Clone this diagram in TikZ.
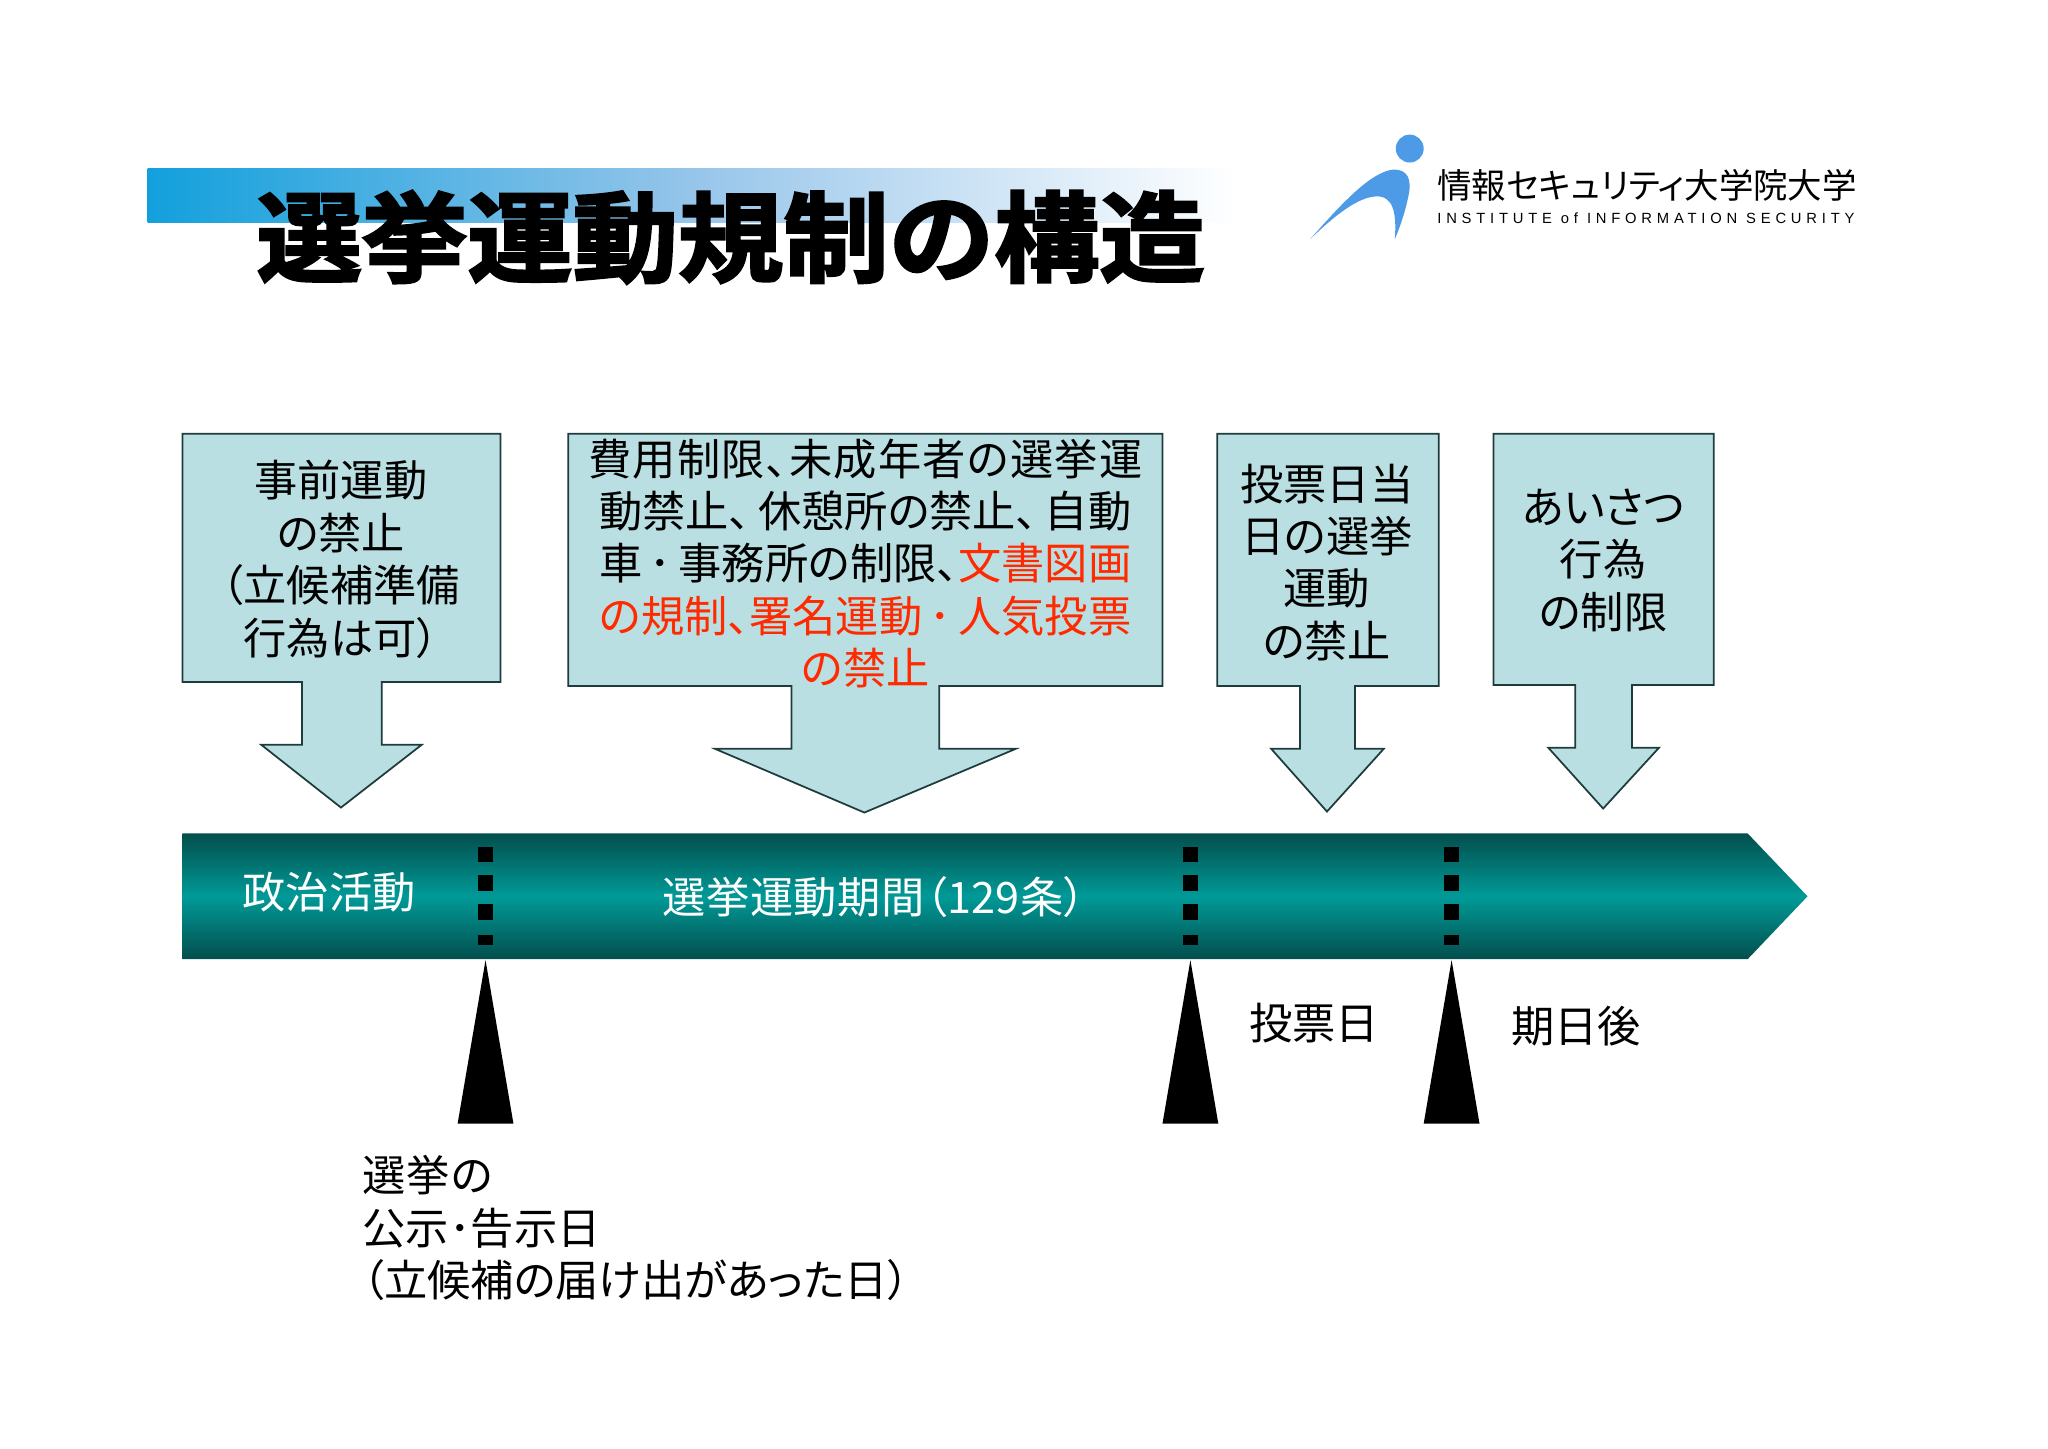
\documentclass[tikz,border=0pt]{standalone}
\usepackage{fontspec}
\setmainfont{Noto Sans CJK JP}[RawFeature={+palt}]
\newfontfamily\titlefont{Noto Sans CJK JP Bold}[FakeBold=2.5]
\newfontfamily\latinfont{Liberation Sans}[LetterSpace=32.5]
\usetikzlibrary{positioning}
\definecolor{boxfill}{RGB}{186,223,226}
\definecolor{boxline}{RGB}{30,60,60}
\definecolor{barmid}{RGB}{0,154,152}
\definecolor{bardark}{RGB}{3,78,76}
\definecolor{alert}{RGB}{255,42,0}
\definecolor{logoblue}{RGB}{77,154,230}
\tikzset{
  callout/.style={draw=boxline, fill=boxfill, line width=0.5pt, line join=miter},
  bodytext/.style={font=\fontsize{12.3}{14.9}\selectfont, align=center, inner sep=0pt},
}
\begin{document}
\begin{tikzpicture}[x=0.00997cm, y=-0.00997cm]
    \useasboundingbox (0,0) rectangle (2054.2,1452.4);

    % Title band
    \shade[left color={rgb,255:red,18;green,160;blue,220}, right color=white, middle color={rgb,255:red,150;green,197;blue,234}]
        (148,169) rectangle (1240,223);
    \node[font=\titlefont\fontsize{28}{28}\selectfont, xscale=1.07, inner sep=0pt] (title) at (733,238) {選挙運動規制の構造};

    % Logo
    \fill[logoblue] (1414,149) circle (14);
    \fill[logoblue] (1314,240) .. controls (1345,205) and (1375,172) .. (1398,170)
        .. controls (1412,170) and (1416,180) .. (1413,195)
        .. controls (1409,215) and (1404,228) .. (1399,240)
        .. controls (1401,215) and (1398,196) .. (1380,197)
        .. controls (1362,198) and (1340,215) .. (1314,240) -- cycle;
    \node[font=\fontsize{9.8}{9.8}\selectfont, anchor=west, inner sep=0pt] (logoname) at (1441,186) {情報セキュリティ大学院大学};
    \node[font=\latinfont\fontsize{4.2}{4.2}\selectfont, anchor=west, inner sep=0pt] (logosub) at (1441,219) {INSTITUTE of INFORMATION SECURITY};

    % Callouts
    \draw[callout] (183,435) -- (502,435) -- (502,684) -- (383,684) -- (383,747) -- (423,747)
        -- (342,810) -- (262,747) -- (303,747) -- (303,684) -- (183,684) -- cycle;
    \draw[callout] (570,435) -- (1166,435) -- (1166,688) -- (942,688) -- (942,751) -- (1019,751)
        -- (867,815) -- (717,751) -- (794,751) -- (794,688) -- (570,688) -- cycle;
    \draw[callout] (1221,435) -- (1443,435) -- (1443,688) -- (1359,688) -- (1359,751) -- (1388,751)
        -- (1331,814) -- (1275,751) -- (1304,751) -- (1304,688) -- (1221,688) -- cycle;
    \draw[callout] (1498,435) -- (1719,435) -- (1719,687) -- (1637,687) -- (1637,750) -- (1664,750)
        -- (1608,811) -- (1553,750) -- (1580,750) -- (1580,687) -- (1498,687) -- cycle;

    \node[bodytext] (pre) at (342,561) {事前運動\\の禁止\\（立候補準備\\行為は可）};
    \node[bodytext] (campaign) at (868,565) {\addfontfeature{LetterSpace=3}費用制限、未成年者の選挙運\\動禁止、\,休憩所の禁止、\,自動\\車\,･\,事務所の制限、\textcolor{alert}{文書図画}\\\textcolor{alert}{の規制、署名運動\,･\,人気投票}\\\textcolor{alert}{の禁止}};
    \node[bodytext] (voteday) at (1331,564) {投票日当\\日の選挙\\運動\\の禁止};
    \node[bodytext] (greeting) at (1608,562) {あいさつ\\行為\\の制限};

    % Time line
    \shade[top color=bardark, bottom color=bardark, middle color=barmid]
        (183,836) -- (1753,836) -- (1813,899) -- (1753,962) -- (183,962) -- cycle;
    \node[bodytext, text=white] (politics) at (330,895) {政治活動};
    \node[bodytext, text=white] (period) at (877,900) {\addfontfeature{LetterSpace=1}選挙運動期間（129条）};

    % Dates
    \foreach \xpos in {487,1194,1456} {
        \foreach \ytop/\ybot in {850/865,878/894,907/923,938/948}
            \fill[black] (\xpos-7.5,\ytop) rectangle (\xpos+7.5,\ybot);
        \fill[black] (\xpos,963) -- (\xpos+28,1127) -- (\xpos-28,1127) -- cycle;
    }
    \node[bodytext] (vote) at (1318,1026) {投票日};
    \node[bodytext] (after) at (1581,1029) {期日後};
    \node[bodytext, align=left, anchor=west] (notice) at (363,1232) {\addfontfeature{LetterSpace=2}選挙の\\公示･告示日\\（立候補の届け出があった日）};
\end{tikzpicture}
\end{document}
